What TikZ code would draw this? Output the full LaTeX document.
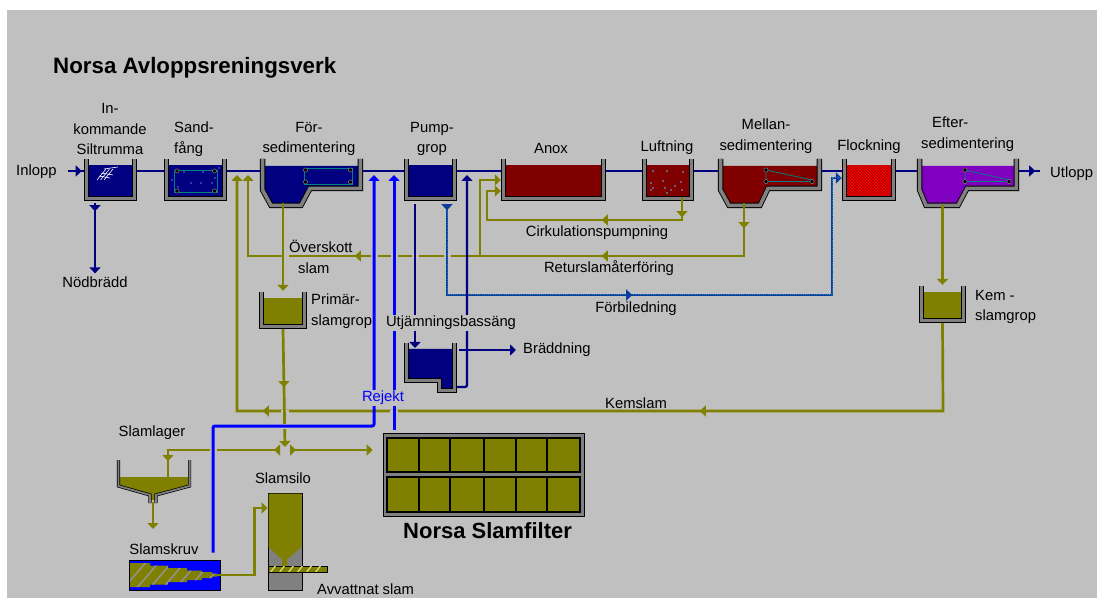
\documentclass[tikz,border=0pt]{standalone}
\usepackage{fontspec}
\setmainfont{Liberation Sans}
\usepackage{xcolor}
\usetikzlibrary{arrows.meta,fit,patterns,decorations.markings}

\begin{document}
\begin{tikzpicture}[x=1pt,y=-1pt]

	% ============================================================
	% COLORS
	% ============================================================
	\definecolor{panel}{HTML}{C0C0C0}
	\definecolor{wallGrey}{HTML}{808080}
	\definecolor{navy}{HTML}{000080}
	\definecolor{maroon}{HTML}{800000}
	\definecolor{violet}{HTML}{8000C0}
	\definecolor{olive}{HTML}{808000}
	\definecolor{rejectBlue}{HTML}{0000FF}
	\definecolor{teal}{HTML}{008080}
	\definecolor{bypassBase}{HTML}{0A3C9C}
	\definecolor{bypassDot}{HTML}{2088B8}

	% ============================================================
	% STYLES
	% ============================================================
	\tikzset{
		>={Triangle[length=6pt,width=11pt]},
		lbl/.style={font=\fontsize{14.8}{20.5}\selectfont,text=black,inner sep=1pt,align=center,yshift=-1pt},
		lblLeft/.style={lbl,align=left,anchor=west},
		heading/.style={font=\bfseries\fontsize{22.3}{24}\selectfont,text=black,inner sep=0pt},
		outer/.style={inner sep=0pt,fit={#1}},
		wall/.style={draw=black,line width=0.9pt,double=wallGrey,double distance=3.6pt,miter limit=10},
		thinWall/.style={draw=black,line width=0.7pt,double=wallGrey,double distance=1.8pt},
		pipe/.style={draw=navy,line width=2.3pt},
		sludge/.style={draw=olive,line width=2.7pt},
		reject/.style={draw=rejectBlue,line width=3pt,rounded corners=2pt},
		bypass/.style={draw=bypassBase,line width=2.6pt,postaction={-,draw=bypassDot,line width=1pt,dash pattern=on 1pt off 1.2pt}},
		midtip/.style={postaction={decorate,decoration={markings,mark=at position #1 with {\arrow{>}}}}},
		gapfill/.style={fill=panel},
		hatchRed/.style={preaction={fill=red},pattern=north west lines,pattern color=maroon},
		screen/.style={draw=teal,line width=0.8pt},
		bolt/.style={fill=black,draw=wallGrey,line width=0.5pt},
		cell/.style={fill=olive,draw=black,line width=1.3pt}
	}

	% ============================================================
	% BASIN SHAPES
	% ============================================================
	% name, left, right, top, bottom, water style
	\newcommand{\tank}[6]{
		\node[outer={(#2,#4)(#3,#5)}] (#1) {};
		\path[#6] (#2+4,#4+6.5) rectangle (#3-4,#5-4);
		\draw[wall] (#2+2.6,#4) -- (#2+2.6,#5-2.6) -- (#3-2.6,#5-2.6) -- (#3-2.6,#4);
	}
	% name, left, right, flat start, flat end, shelf start, water style
	\newcommand{\sedtank}[7]{
		\node[outer={(#2,159)(#3,208)}] (#1) {};
		\path[#7] (#2+2.6,166) -- (#2+2.6,190) -- (#4+1,205.4) -- (#5-1,205.4) -- (#6,188.4) -- (#3-2.6,188.4) -- (#3-2.6,166) -- cycle;
		\draw[wall] (#2+2.6,159) -- (#2+2.6,190) -- (#4+1,205.4) -- (#5-1,205.4) -- (#6,188.4) -- (#3-2.6,188.4) -- (#3-2.6,159);
	}
	% left, right, top, bottom, upper right y
	\newcommand{\skimmer}[5]{
		\draw[screen] (#1,#3) -- (#2,#5) -- (#2,#4) -- (#1,#4) -- cycle;
		\foreach \bx/\by in {#1/#3,#1/#4,#2/#4}
			\path[bolt] (\bx,\by) circle (2.1);
	}

	% ============================================================
	% CANVAS
	% ============================================================
	\useasboundingbox (0,0) rectangle (1100,601);
	\fill[white] (0,0) rectangle (1100,601);
	\fill[panel] (7,10) rectangle (1097,598);
	\coordinate (main) at (0,171);

	\node[heading,anchor=west] (title) at (53,68) {Norsa Avloppsreningsverk};

	% ============================================================
	% BASINS - MAIN LINE
	% ============================================================
	\tank{silt}{84}{137}{159}{201}{fill=navy}
	\tank{sand}{164}{227}{159}{201}{fill=navy}
	\sedtank{forsed}{260}{363}{270}{302}{310}{fill=navy}
	\tank{pump}{404}{457}{159}{201}{fill=navy}
	\tank{anox}{501}{606}{159}{201}{fill=maroon}
	\tank{luft}{642}{694}{159}{201}{fill=maroon}
	\sedtank{mellan}{718}{822}{728}{761}{768}{fill=maroon}
	\tank{flock}{842}{896}{159}{201}{hatchRed}
	\sedtank{efter}{917}{1019}{925}{959}{967}{fill=violet}

	% rake in the inlet basin
	\foreach \rx in {0,3.5,7}
		\draw[white,line width=0.6pt] (97+\rx,180) -- (106+\rx,169);
	\draw[white,line width=0.6pt] (99,176) -- (110,178) (101,173) -- (113,175) (104,169) -- (118,167);

	% screens
	\draw[screen] (174,170) rectangle (217,192);
	\foreach \bx/\by in {177/171,214.5/171,177/191,214.5/191}
		\path[bolt] (\bx,\by) circle (2.1);
	\foreach \dx/\dy in {184/172,203/172,219/168,191/183,201/183,212/183,172/180,215/178,178/187}
		\fill[white] (\dx,\dy) circle (0.7);
	\draw[screen] (304,168) rectangle (352,184);
	\foreach \bx/\by in {305.5/170,350.5/170,305.5/182,350.5/182}
		\path[bolt] (\bx,\by) circle (2.1);
	\foreach \dx/\dy in {653/171,667/171,683/172,663/181,681/182,651/183,653/188,651/190,665/188,675/186,671/190,682/190,667/193}
		\fill[cyan!70!white] (\dx,\dy) circle (0.8);
	\skimmer{766}{812}{170}{181.5}{180}
	\skimmer{965}{1009}{170}{181.5}{180}

	% ============================================================
	% BASINS - SLUDGE SIDE
	% ============================================================
	\tank{primar}{259}{307}{292}{329}{fill=olive}
	\tank{kem}{919}{966}{286}{323}{fill=olive}

	% equalisation basin
	\node[outer={(404,343)(457,393)}] (utj) {};
	\fill[navy] (406,349) -- (455,349) -- (455,391) -- (439,391) -- (439,381) -- (406,381) -- cycle;
	\draw[wall] (406.6,343) -- (406.6,380.6) -- (439.6,380.6) -- (439.6,390.4) -- (454.4,390.4) -- (454.4,343);

	% sludge store
	\node[outer={(117,460)(191,503)}] (lager) {};
	\fill[olive] (119,477) -- (190,477) -- (190,486) -- (155.5,495) -- (155.5,500) -- (150.5,500) -- (150.5,495) -- (119,486) -- cycle;
	\draw[thinWall] (118.4,460) -- (118.4,486) -- (150,495) -- (150,503);
	\draw[thinWall] (189.6,460) -- (189.6,486) -- (156,495) -- (156,503);

	% filter press
	\node[outer={(383,433)(584,516)},fill=wallGrey,draw=black,line width=0.6pt] (filter) {};
	\foreach \xa/\xb in {387/419,419/450,450/484,484/516,516/547,547/580}{
		\path[cell] (\xa,438) rectangle (\xb,472);
		\path[cell] (\xa,477) rectangle (\xb,512);
	}
	\node[heading,anchor=west,font=\bfseries\fontsize{22}{24}\selectfont] (filterName) at (403,531) {Norsa Slamfilter};

	% sludge screw
	\node[outer={(129,560)(220,590)},fill=rejectBlue,draw=black,line width=0.8pt] (skruv) {};
	\begin{scope}
		\clip (130,563) -- (150,563) -- (150,565.5) -- (168,565.5) -- (168,568) -- (187,568) -- (187,570.5) -- (202,570.5) -- (202,572) -- (212,572) -- (212,573.5) -- (217,573.5) -- (217,576.5) -- (212,576.5) -- (212,578) -- (202,578) -- (202,580) -- (187,580) -- (187,582) -- (168,582) -- (168,584.5) -- (150,584.5) -- (150,587) -- (130,587) -- cycle;
		\fill[olive] (129,560) rectangle (220,590);
		\foreach \sx in {122,135,148,161,174,187,200}
			\draw[wallGrey!70!panel,line width=1.5pt] (\sx,590) -- (\sx+26,560);
	\end{scope}

	% sludge silo
	\node[outer={(268,493)(302,590)},fill=wallGrey,draw=black,line width=0.8pt] (silo) {};
	\fill[olive] (268.5,493.5) -- (301.5,493.5) -- (301.5,547) -- (287,559.5) -- (287,566) -- (282,566) -- (282,559.5) -- (268.5,547) -- cycle;
	\node[outer={(268,566)(327,572)},fill=olive,draw=black,line width=0.6pt] (belt) {};
	\begin{scope}
		\clip (268,566.5) rectangle (326.5,571.5);
		\foreach \sx in {270,279,288,297,306,315}
			\draw[panel!70!yellow,line width=1.4pt] (\sx,573) -- (\sx+6,565);
	\end{scope}

	% ============================================================
	% LABELS
	% ============================================================
	\node[lbl] (siltLbl) at (110,128) {In-\\kommande\\Siltrumma};
	\node[lblLeft] (sandLbl) at (173,138) {Sand-\\fång};
	\node[lbl] (forsedLbl) at (309,138) {För-\\sedimentering};
	\node[lbl] (pumpLbl) at (432,138) {Pump-\\grop};
	\node[lbl] (anoxLbl) at (551,147) {Anox};
	\node[lbl] (luftLbl) at (667,147) {Luftning};
	\node[lbl] (mellanLbl) at (766,135) {Mellan-\\sedimentering};
	\node[lbl] (flockLbl) at (869,146) {Flockning};
	\node[lblLeft] (efterLbl) at (920,133) {\hspace*{11pt}Efter-\\sedimentering};
	\node[lblLeft] (inlopp) at (15,171) {Inlopp};
	\node[lblLeft] (utlopp) at (1049,173) {Utlopp};
	\node[lbl] (nodbradd) at (95,281) {Nödbrädd};
	\node[lblLeft] (overskott) at (288,256) {Överskott\\\hspace*{9pt}slam};
	\node[lbl] (cirkLbl) at (597,232) {Cirkulationspumpning};
	\node[lbl] (returLbl) at (609,267) {Returslamåterföring};
	\node[lbl] (forbiLbl) at (636,308) {Förbiledning};
	\node[lblLeft] (primarLbl) at (310,310) {Primär-\\slamgrop};
	\node[lblLeft] (kemLbl) at (974,306) {Kem -\\slamgrop};
	\node[lblLeft] (braddning) at (522,349) {Bräddning};
	\node[lbl] (kemslamLbl) at (636,402) {Kemslam};
	\node[lbl] (lagerLbl) at (152,432) {Slamlager};
	\node[lbl] (skruvLbl) at (164,548) {Slamskruv};
	\node[lbl] (siloLbl) at (283,477) {Slamsilo};
	\node[lblLeft] (avvattnat) at (316,588) {Avvattnat slam};

	% ============================================================
	% ARROWS - MAIN LINE
	% ============================================================
	\draw[pipe,midtip=14pt] ([xshift=10pt]inlopp.east |- main) -- (silt.west |- main);
	\draw[pipe] (silt.east |- main) -- (sand.west |- main);
	\draw[pipe] (sand.east |- main) -- (forsed.west |- main);
	\draw[pipe] (forsed.east |- main) -- (pump.west |- main);
	\draw[pipe] (pump.east |- main) -- (anox.west |- main);
	\draw[pipe] (anox.east |- main) -- (luft.west |- main);
	\draw[pipe] (luft.east |- main) -- (mellan.west |- main);
	\draw[pipe] (mellan.east |- main) -- (flock.west |- main);
	\draw[pipe] (flock.east |- main) -- (efter.west |- main);
	\draw[pipe,midtip=16pt] (efter.east |- main) -- ([xshift=-9pt]utlopp.west |- main);
	\draw[pipe,->,midtip=8pt,shorten >=2pt] ([yshift=-2pt]silt.south -| nodbradd.north) -- (nodbradd.north);

	% ============================================================
	% ARROWS - SLUDGE HORIZONTALS
	% ============================================================
	\coordinate (kemBend) at (943,411);
	\coordinate (kemEnd) at (237,175);
	\coordinate (retBend) at (744,256);
	\coordinate (retEnd) at (248,175);
	\coordinate (cirkBend) at (682,220);
	\coordinate (cirkEnd) at (487,191);
	\coordinate (feedBend) at (480,180);

	\draw[sludge,->,midtip=331pt,midtip=768pt] (kem.south) -- (kemBend) -- (kemBend -| kemEnd) -- (kemEnd);
	\draw[sludge,->,midtip=25pt,midtip=195pt,midtip=442pt] ([yshift=5pt]retBend |- mellan.south) -- (retBend) -- (retBend -| retEnd) -- (retEnd);
	\draw[sludge,->] (feedBend |- retBend) -- (feedBend) -- (feedBend -| anox.west);
	\draw[sludge,->,midtip=20pt,midtip=103pt] ([yshift=4pt]cirkBend |- luft.south) -- (cirkBend) -- (cirkBend -| cirkEnd) -- (cirkEnd) -- (cirkEnd -| anox.west);

	% gaps where other lines pass
	\foreach \gx in {285,374,394,415,447}
		\fill[gapfill] (\gx-3.5,254) rectangle (\gx+3.5,258);
	\foreach \gx in {285,394}
		\fill[gapfill] (\gx-4,409.5) rectangle (\gx+4,413.5);

	% ============================================================
	% ARROWS - SLUDGE VERTICALS
	% ============================================================
	\coordinate (sortA) at (285,447);
	\coordinate (storeBend) at (168,450);

	\draw[sludge,->,shorten >=1pt] ([yshift=5pt]forsed.south -| primar.north) -- (primar.north);
	\draw[sludge,->,midtip=58pt] (primar.south) -- (sortA);
	\draw[sludge,->,shorten >=1pt] ([yshift=3pt]efter.south -| kem.north) -- (kem.north);
	\draw[sludge,midtip=4pt,midtip=121pt] ([xshift=-7pt,yshift=-3pt]sortA) -- (storeBend) -- ([yshift=-17pt]storeBend |- lager.north);
	\draw[sludge,->,midtip=6pt,shorten >=10pt] ([xshift=5pt,yshift=-3pt]sortA) -- (filter.west |- storeBend);
	\draw[olive,line width=1.3pt,->] (153,502) -- (153,529);
	\draw[sludge,line width=2.2pt,->] ([xshift=-3pt]skruv.east) -- ++(37,0) |- (silo.west |- 0,508);

	\fill[gapfill] (281,423.5) rectangle (289,428.5);
	\fill[gapfill] (209.5,448) rectangle (216.5,452);

	% ============================================================
	% ARROWS - BYPASS AND EQUALISATION
	% ============================================================
	\coordinate (bypassA) at (447,295);
	\coordinate (bypassB) at (832,295);
	\coordinate (bypassC) at (832,178);
	\coordinate (utjBack) at (467,387);

	\draw[bypass,->,midtip=6pt,midtip=276pt] ([yshift=-3pt]bypassA |- pump.south) -- (bypassA) -- (bypassB) -- (bypassC) -- (bypassC -| flock.west);
	\draw[pipe,->] (415,204) -- (415,348);
	\draw[pipe,->,rounded corners=2pt] (utj.east |- utjBack) -- (utjBack) -- ([yshift=-4pt]utjBack |- main);
	\draw[pipe,->] ([xshift=2pt]utj.east |- braddning.west) -- ([xshift=-6pt]braddning.west);

	% ============================================================
	% ARROWS - REJECT WATER
	% ============================================================
	\coordinate (rejA) at (213,426);
	\coordinate (rejB) at (374,426);
	\coordinate (rejC) at (394,175);

	\draw[reject,->] ([yshift=7pt]rejA |- skruv.north) -- (rejA) -- (rejB) -- (rejB |- rejC);
	\draw[reject,->] ([yshift=3pt]rejC |- filter.north) -- (rejC);

	% labels that sit on top of lines
	\node[lbl,fill=panel,text=rejectBlue] (rejekt) at (383,397) {Rejekt};
	\node[lbl,fill=panel] (utjLbl) at (451,322) {Utjämningsbassäng};

\end{tikzpicture}
\end{document}
